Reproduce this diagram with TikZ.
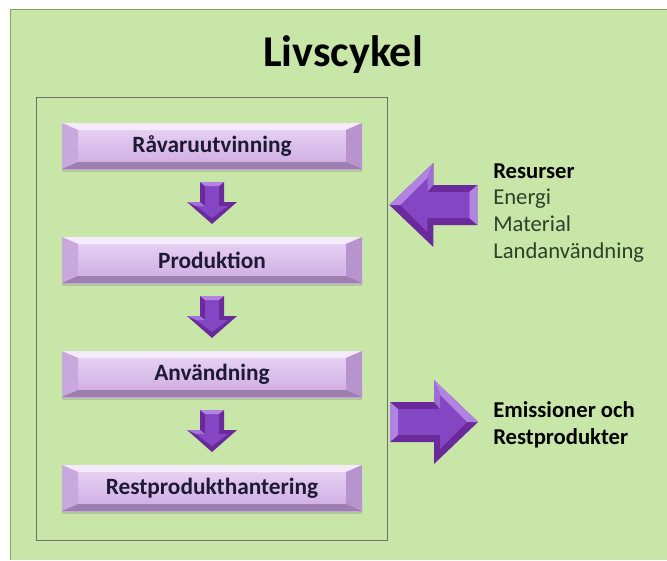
\documentclass[tikz,border=0pt]{standalone}
\usepackage{fontspec}
\setmainfont{Carlito}
\usetikzlibrary{positioning,calc,fit,shadows}

\definecolor{panelgreen}{HTML}{C9E6A9}
\definecolor{panelrim}{HTML}{7FA85A}
\definecolor{framegray}{HTML}{6C7266}
\definecolor{arrdark}{HTML}{6A2A9C}
\definecolor{arrmid}{HTML}{8446C2}
\definecolor{arrlight}{HTML}{B184E4}
\definecolor{barhi}{HTML}{F5EAFB}
\definecolor{bartop}{HTML}{EAD6F5}
\definecolor{barbot}{HTML}{CDA9E2}
\definecolor{barside}{HTML}{C9A8DE}
\definecolor{barlow}{HTML}{B894CE}
\definecolor{bartext}{HTML}{1E1A33}
\definecolor{sidetext}{HTML}{2E4229}

\begin{document}
\begin{tikzpicture}[x=0.75pt, y=-0.75pt,
  bar/.style={minimum width=225pt, minimum height=34.5pt, inner sep=0pt, outer sep=0pt,
    top color=bartop, bottom color=barbot, text=bartext,
    font=\fontsize{17.5}{20}\selectfont\bfseries,
    drop shadow={shadow xshift=0pt, shadow yshift=-2pt, opacity=0.3}},
  frame/.style={draw=framegray, line width=1pt, inner xsep=19pt, inner ysep=20.5pt, yshift=-1.5pt},
  side/.style={align=left, inner sep=0pt, text=sidetext, font=\fontsize{17}{20}\selectfont},
  downarr/.pic={
    \fill[arrdark] (-12,-21) -- (12,-21) -- (12,-1) -- (25,-1) -- (0,21) -- (-25,-1) -- (-12,-1) -- cycle;
    \fill[arrmid] (-7,-17) -- (7,-17) -- (7,3) -- (16,3) -- (0,15) -- (-16,3) -- (-7,3) -- cycle;
    \fill[arrlight] (-12,-21) -- (12,-21) -- (7,-17) -- (-7,-17) -- cycle;
    \fill[arrlight!70!arrmid] (-25,-1) -- (-12,-1) -- (-7,3) -- (-16,3) -- cycle;},
  bigarr/.pic={
    \fill[arrdark] (0,0) -- (44,-42) -- (44,-20) -- (88,-20) -- (88,20) -- (44,20) -- (44,42) -- cycle;
    \fill[arrmid] (11,0) -- (38,-27) -- (38,-13) -- (80,-13) -- (80,13) -- (38,13) -- (38,27) -- cycle;
    \fill[arrlight] (0,0) -- (44,-42) -- (38,-27) -- (11,0) -- cycle;
    \fill[arrlight] (88,-20) -- (88,20) -- (80,13) -- (80,-13) -- cycle;
    \fill[arrlight!60!arrmid] (44,-42) -- (44,-20) -- (38,-13) -- (38,-27) -- cycle;}]

\useasboundingbox (0,0) rectangle (667,560);
\fill[white] (0,0) rectangle (667,560);
\fill[panelgreen] (10,9) rectangle (667,560);
\draw[panelrim, line width=1.2pt] (667,9.5) -- (10.5,9.5) -- (10.5,560);

\node[font=\fontsize{33}{36}\selectfont\bfseries, anchor=base] (title) at (343,66) {Livscykel};

% stages of the life cycle
\node[bar] (raw) at (212,146) {Råvaruutvinning};
\node[bar, below=51pt of raw] (prod) {Produktion};
\node[bar, below=51pt of prod] (anv) {Användning};
\node[bar, below=51pt of anv] (rest) {Restprodukthantering};

\foreach \b in {raw,prod,anv,rest} {
  \fill[barhi] (\b.north west) -- (\b.north east) -- ([shift={(-16,7)}]\b.north east) -- ([shift={(16,7)}]\b.north west) -- cycle;
  \fill[barside] (\b.north west) -- ([shift={(16,7)}]\b.north west) -- ([shift={(16,-7)}]\b.south west) -- (\b.south west) -- cycle;
  \fill[barlow] (\b.north east) -- ([shift={(-16,7)}]\b.north east) -- ([shift={(-16,-7)}]\b.south east) -- (\b.south east) -- cycle;
  \fill[barlow!85!black] (\b.south west) -- ([shift={(16,-7)}]\b.south west) -- ([shift={(-16,-7)}]\b.south east) -- (\b.south east) -- cycle;
}
\foreach \a/\b in {raw/prod,prod/anv,anv/rest}
  \pic at ($(\a.south)!0.5!(\b.north)$) {downarr};

\node[frame, fit=(raw)(rest)] (frame) {};

% inputs and outputs (base is the last line)
\node[side, anchor=base west] (res) at (493,258) {\textbf{\color{black}Resurser}\\Energi\\Material\\Landanvändning};
\node[side, anchor=base west, text=black, font=\fontsize{17}{20}\selectfont\bfseries] (emi) at (493,444) {Emissioner och\\Restprodukter};

\coordinate (intip) at (frame.east |- 0,205);
\coordinate (outtip) at (478,422);
\pic at ([xshift=1pt]intip) {bigarr};
\pic[xscale=-1] at (outtip) {bigarr};
\end{tikzpicture}
\end{document}
